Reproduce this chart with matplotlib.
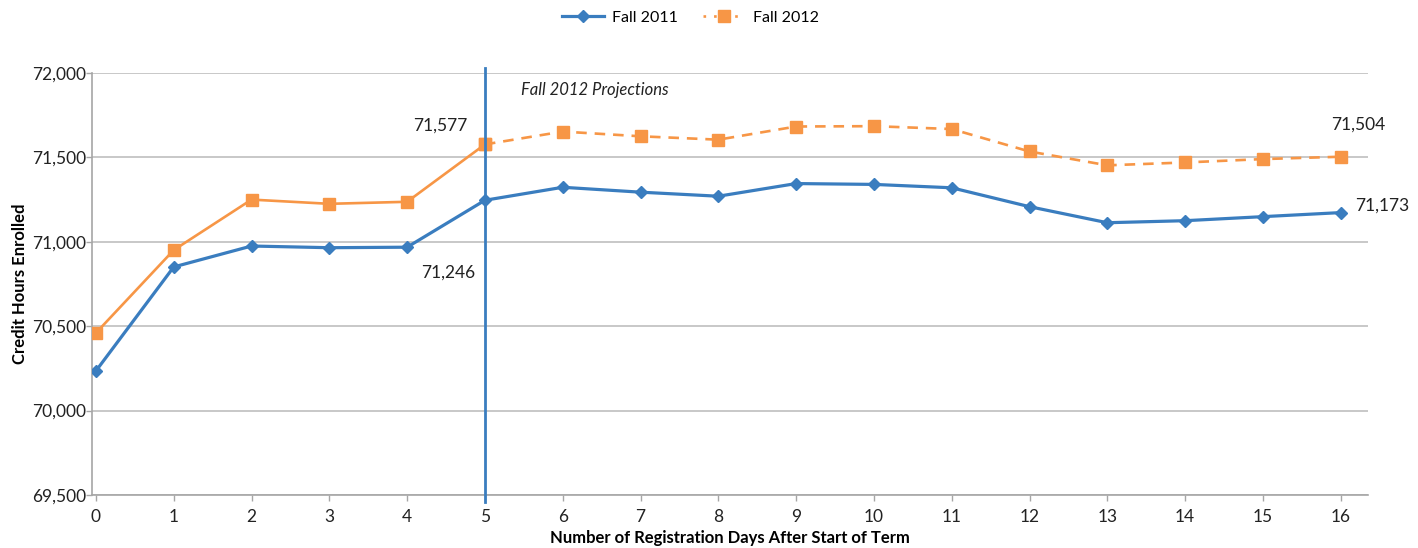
import matplotlib
matplotlib.use("Agg")
import matplotlib.pyplot as plt
from matplotlib.lines import Line2D

plt.rcParams['font.family'] = ['Lato', 'DejaVu Sans']

days = list(range(17))
fall_2011 = [70235, 70851, 70975, 70965, 70968, 71246, 71323, 71294, 71270,
             71345, 71340, 71320, 71208, 71113, 71125, 71149, 71173]
fall_2012 = [70460, 70951, 71250, 71225, 71237, 71577, 71653, 71625, 71605,
             71683, 71685, 71668, 71535, 71453, 71470, 71490, 71504]
actual_end = 5  # last actual Fall 2012 day; later values are projections
y_ticks = [69500, 70000, 70500, 71000, 71500, 72000]

blue = '#3A7DBF'
orange = '#F79646'
grid_c = '#BFBFBF'

fig = plt.figure(figsize=(14.18, 5.48), dpi=100)
ax = fig.add_axes([0.0649, 0.0967, 0.8998, 0.7701])

ax.set_xlim(-0.05, 16.35)
ax.set_ylim(69500, 72000)
ax.set_yticks(y_ticks)
ax.set_yticklabels([f"{v:,}" for v in y_ticks])
ax.set_xticks(days)
ax.set_xticklabels([str(d) for d in days])

ax.grid(axis='y', color=grid_c, linewidth=1.2)
ax.set_axisbelow(True)
for s in ['top', 'right']:
    ax.spines[s].set_visible(False)
for s in ['left', 'bottom']:
    ax.spines[s].set_color('#A6A6A6')
    ax.spines[s].set_linewidth(1.2)
ax.tick_params(axis='both', colors='#A6A6A6', length=4, width=1, labelsize=12.5,
               labelcolor='#222222')
ax.tick_params(axis='x', pad=6)
ax.tick_params(axis='y', pad=0)

# Fall 2012 actual (solid) and projection (dashed)
ax.plot(days[:actual_end + 1], fall_2012[:actual_end + 1], color=orange, lw=1.9,
        marker='s', ms=9, zorder=3)
ax.plot(days[actual_end:], fall_2012[actual_end:], color=orange, lw=1.9, ls=(0, (4, 3)),
        marker='s', ms=9, zorder=3)
# Fall 2011
ax.plot(days, fall_2011, color=blue, lw=2.3, marker='D', ms=6.5, zorder=4)

# vertical divider at day 5
ax.plot([actual_end, actual_end], [72030, 69460], color=blue, lw=2, clip_on=False, zorder=5)

ax.text(5.47, 71900, 'Fall 2012 Projections', fontstyle='italic', fontsize=12,
        ha='left', va='center', color='#222222')
ax.text(4.78, 71690, f"{fall_2012[actual_end]:,}", fontsize=12.5, ha='right', va='center',
        color='#222222')
ax.text(4.87, 70820, f"{fall_2011[actual_end]:,}", fontsize=12.5, ha='right', va='center',
        color='#222222')
ax.text(16.23, 71697, f"{fall_2012[-1]:,}", fontsize=12.5, ha='center', va='center',
        color='#222222')
ax.text(16.19, 71215, f"{fall_2011[-1]:,}", fontsize=12.5, ha='left', va='center',
        color='#222222')

ax.set_ylabel('Credit Hours Enrolled', fontsize=12, fontweight='bold')
ax.yaxis.set_label_coords(-0.050, 0.5)
ax.set_xlabel('Number of Registration Days After Start of Term', fontsize=12,
              fontweight='bold', labelpad=4)

handles = [Line2D([], [], color=blue, lw=2.3, marker='D', ms=6.5),
           Line2D([], [], color=orange, lw=1.9, ls=(0, (1, 3)), marker='s', ms=9)]
fig.legend(handles, ['Fall 2011', 'Fall 2012'], loc='center', bbox_to_anchor=(0.487, 0.968),
           ncol=2, frameon=False, fontsize=11.5, handlelength=2.6, columnspacing=1.6,
           handletextpad=0.5)

fig.savefig('out.png', dpi=100)
